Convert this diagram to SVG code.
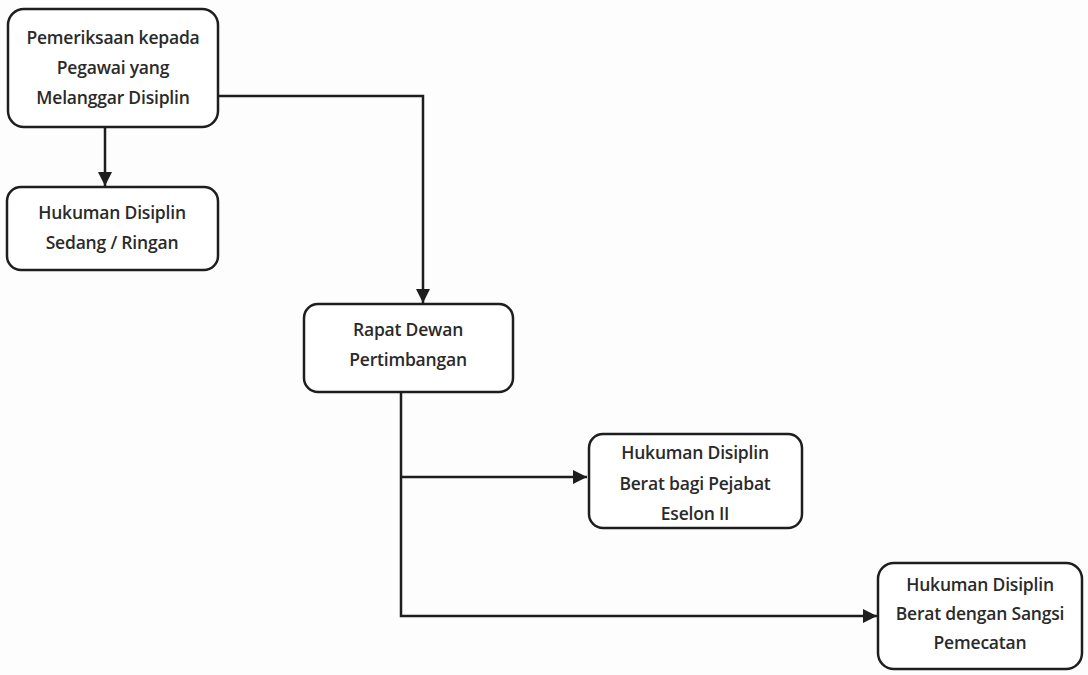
<svg xmlns="http://www.w3.org/2000/svg" width="1088" height="675" viewBox="0 0 1088 675">
  <defs>
    <marker id="arrow" viewBox="0 0 10 10" refX="10" refY="5" markerWidth="14" markerHeight="14" markerUnits="userSpaceOnUse" orient="auto">
      <path d="M0,0 L10,5 L0,10 z" fill="#1e1e1e"/>
    </marker>
    <style>
      .box { fill: #ffffff; stroke: #1e1e1e; stroke-width: 2.5; }
      .lbl { font-family: "Open Sans", "Liberation Sans", sans-serif; font-size: 17.5px; font-weight: 600; fill: #2a2a2a; text-anchor: middle; letter-spacing: -0.2px; }
      .wire { fill: none; stroke: #1e1e1e; stroke-width: 2.5; }
    </style>
  </defs>
  <rect width="1088" height="675" fill="#fdfdfd"/>

  <g id="connectors">
    <path class="wire" d="M105,127 L105,186" marker-end="url(#arrow)"/>
    <path class="wire" d="M218,96 L423,96 L423,303" marker-end="url(#arrow)"/>
    <path class="wire" d="M401,392 L401,616 L877,616" marker-end="url(#arrow)"/>
    <path class="wire" d="M401,477 L587,477" marker-end="url(#arrow)"/>
  </g>

  <g id="pemeriksaan">
    <rect class="box" x="8" y="9" width="210" height="118" rx="16"/>
    <text class="lbl" x="113" y="44">Pemeriksaan kepada</text>
    <text class="lbl" x="113" y="74">Pegawai yang</text>
    <text class="lbl" x="113" y="104">Melanggar Disiplin</text>
  </g>

  <g id="sedang-ringan">
    <rect class="box" x="7" y="187" width="211" height="83" rx="14"/>
    <text class="lbl" x="112" y="219">Hukuman Disiplin</text>
    <text class="lbl" x="112" y="249">Sedang / Ringan</text>
  </g>

  <g id="rapat-dewan">
    <rect class="box" x="304" y="304" width="209" height="88" rx="14"/>
    <text class="lbl" x="408" y="336">Rapat Dewan</text>
    <text class="lbl" x="408" y="366">Pertimbangan</text>
  </g>

  <g id="berat-pejabat">
    <rect class="box" x="589" y="434" width="213" height="94" rx="14"/>
    <text class="lbl" x="695" y="459">Hukuman Disiplin</text>
    <text class="lbl" x="695" y="490">Berat bagi Pejabat</text>
    <text class="lbl" x="695" y="520">Eselon II</text>
  </g>

  <g id="berat-pemecatan">
    <rect class="box" x="878" y="563" width="204" height="106" rx="16"/>
    <text class="lbl" x="980" y="591">Hukuman Disiplin</text>
    <text class="lbl" x="980" y="620">Berat dengan Sangsi</text>
    <text class="lbl" x="980" y="649">Pemecatan</text>
  </g>
</svg>
